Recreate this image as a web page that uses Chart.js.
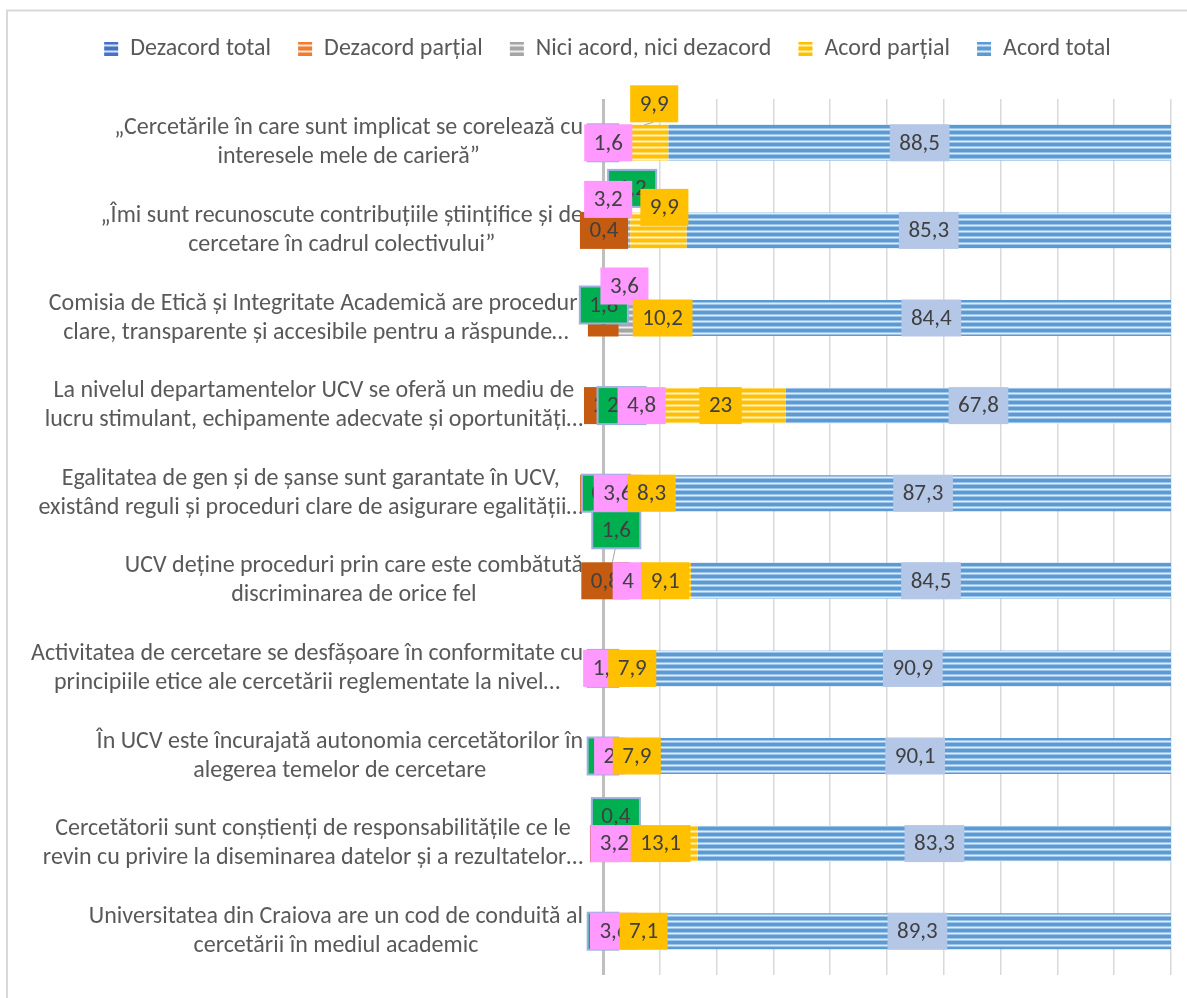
<!DOCTYPE html>
<html>
<head>
<meta charset="utf-8">
<script src="https://cdn.jsdelivr.net/npm/chart.js@4.4.1/dist/chart.umd.min.js"></script>
<style>
  html, body { margin: 0; padding: 0; background: #fff; }
</style>
</head>
<body>
<canvas id="myChart" width="1187" height="998"></canvas>
<script>
const categories = [
    ['„Cercetările în care sunt implicat se corelează cu', 'interesele mele de carieră”'],
    ['„Îmi sunt recunoscute contribuțiile științifice și de', 'cercetare în cadrul colectivului”'],
    ['Comisia de Etică și Integritate Academică are proceduri', 'clare, transparente și accesibile pentru a răspunde…'],
    ['La nivelul departamentelor UCV se oferă un mediu de', 'lucru stimulant, echipamente adecvate și oportunități…'],
    ['Egalitatea de gen și de șanse sunt garantate în UCV,', 'existând reguli și proceduri clare de asigurare egalității…'],
    ['UCV deține proceduri prin care este combătută', 'discriminarea de orice fel'],
    ['Activitatea de cercetare se desfășoare în conformitate cu', 'principiile etice ale cercetării reglementate la nivel…'],
    ['În UCV este încurajată autonomia cercetătorilor în', 'alegerea temelor de cercetare'],
    ['Cercetătorii sunt conștienți de responsabilitățile ce le', 'revin cu privire la diseminarea datelor și a rezultatelor…'],
    ['Universitatea din Craiova are un cod de conduită al', 'cercetării în mediul academic']
];
const seriesNames = ['Dezacord total', 'Dezacord parțial', 'Nici acord, nici dezacord', 'Acord parțial', 'Acord total'];
const dezacordTotal   = [0, 1.2, 1.8, 2.4, 0.8, 1.6, 0, 0, 0.4, 0];
const dezacordPartial = [0, 0.4, 0, 2, 0, 0.8, 0, 0, 0, 0];
const niciAcord       = [1.6, 3.2, 3.6, 4.8, 3.6, 4, 1.2, 2, 3.2, 3.6];
const acordPartial    = [9.9, 9.9, 10.2, 23, 8.3, 9.1, 7.9, 7.9, 13.1, 7.1];
const acordTotal      = [88.5, 85.3, 84.4, 67.8, 87.3, 84.5, 90.9, 90.1, 83.3, 89.3];
const axisTicks = [0, 10, 20, 30, 40, 50, 60, 70, 80, 90, 100];

const FONT = "Carlito, 'Liberation Sans', Arial, sans-serif";

// horizontal stripe fill like the excel pattern
function stripes(dark, mid, light) {
    const cv = document.createElement('canvas');
    cv.width = 6; cv.height = 6;
    const g = cv.getContext('2d');
    [dark, dark, mid, light, mid, dark].forEach((c, i) => {
        g.fillStyle = c;
        g.fillRect(0, i, 6, 1);
    });
    return g.createPattern(cv, 'repeat');
}

const barFills = [
    stripes('#4472C4', '#8FAADC', '#DAE3F3'),
    stripes('#ED7D31', '#F4B183', '#FBE5D6'),
    stripes('#A5A5A5', '#C9C9C9', '#EDEDED'),
    stripes('#FFC000', '#FFD966', '#FFF2CC'),
    stripes('#5B9BD5', '#9DC3E6', '#DEEBF7')
];
const labelFill = ['#00B050', '#C55A11', '#FF99FF', '#FFC000', '#B4C7E7'];
const labelOrder = [1, 0, 2, 3, 4];
// labels that were dragged away from the bar centre in the original (px)
const labelShift = {
    '0-3': [14, -39],
    '1-0': [25, -42], '1-1': [-7, 0], '1-2': [-13, -31], '1-3': [6, -23],
    '2-0': [-5, -13], '2-1': [-10, 0], '2-2': [1, -32],
    '3-0': [11, 0], '3-1': [-23, 0],
    '4-1': [-12, 0],
    '5-0': [8, -51], '5-1': [-9, 0],
    '8-0': [11, -27]
};

const frame = {
    id: 'frame',
    beforeDraw(chart) {
        const ctx = chart.ctx;
        ctx.save();
        ctx.strokeStyle = '#D9D9D9';
        ctx.lineWidth = 2;
        ctx.strokeRect(7, 10.5, 1200, 1000);
        ctx.restore();
    }
};

const legendSpace = {
    id: 'legendSpace',
    beforeInit(chart) {
        const fit = chart.legend.fit;
        chart.legend.fit = function () {
            fit.call(this);
            this.height = 89;
        };
    }
};

const categoryText = {
    id: 'categoryText',
    beforeDatasetsDraw(chart) {
        const ctx = chart.ctx;
        const yAxis = chart.scales.y;
        ctx.save();
        ctx.font = '24px ' + FONT;
        ctx.fillStyle = '#595959';
        ctx.textAlign = 'center';
        ctx.textBaseline = 'middle';
        categories.forEach((lines, i) => {
            const yc = yAxis.getPixelForValue(i);
            const widest = Math.max(...lines.map(l => ctx.measureText(l).width));
            const xc = yAxis.right - 20 - widest / 2;
            lines.forEach((l, k) => {
                ctx.fillText(l, xc, yc + (k - (lines.length - 1) / 2) * 29);
            });
        });
        ctx.restore();
    }
};

const boxLabels = {
    id: 'boxLabels',
    afterDatasetsDraw(chart) {
        const ctx = chart.ctx;
        ctx.save();
        ctx.font = '23px ' + FONT;
        ctx.textAlign = 'center';
        ctx.textBaseline = 'middle';
        labelOrder.forEach(ds => {
            const meta = chart.getDatasetMeta(ds);
            meta.data.forEach((bar, i) => {
                const v = chart.data.datasets[ds].data[i];
                if (v === null || v === undefined) return;
                const p = bar.getProps(['x', 'y', 'base', 'height'], true);
                const text = String(v).replace('.', ',');
                const shift = labelShift[i + '-' + ds] || [0, 0];
                const segX = (p.x + p.base) / 2;
                const cx = segX + shift[0];
                const cy = p.y + shift[1];
                const w = ctx.measureText(text).width + 19;
                const h = 37;
                const barTop = p.y - p.height / 2;
                if (cy + h / 2 < barTop) {
                    ctx.strokeStyle = '#A6A6A6';
                    ctx.lineWidth = 1;
                    ctx.beginPath();
                    ctx.moveTo(cx - 1, cy + h / 2);
                    ctx.lineTo(segX + 4, barTop);
                    ctx.stroke();
                }
                ctx.fillStyle = labelFill[ds];
                ctx.fillRect(cx - w / 2, cy - h / 2, w, h);
                if (ds === 0) {
                    ctx.strokeStyle = '#9DB1DE';
                    ctx.lineWidth = 2;
                    ctx.strokeRect(cx - w / 2, cy - h / 2, w, h);
                }
                ctx.fillStyle = '#404040';
                ctx.fillText(text, cx, cy + 1);
            });
        });
        ctx.restore();
    }
};

const seriesData = [dezacordTotal, dezacordPartial, niciAcord, acordPartial, acordTotal];
const data = {
    labels: categories.map(c => c.join(' ')),
    datasets: seriesNames.map((name, s) => ({
        label: name,
        data: seriesData[s],
        backgroundColor: barFills[s],
        borderWidth: 0,
        categoryPercentage: 0.5,
        barPercentage: 0.82
    }))
};

const config = {
    type: 'bar',
    data: data,
    options: {
        indexAxis: 'y',
        responsive: false,
        animation: false,
        layout: { padding: { top: 10, right: 16, bottom: 23, left: 44 } },
        plugins: {
            legend: {
                position: 'top',
                labels: {
                    boxWidth: 14,
                    boxHeight: 14,
                    padding: 27,
                    color: '#595959',
                    font: { size: 24, family: FONT }
                }
            },
            tooltip: { enabled: false }
        },
        scales: {
            x: {
                stacked: true,
                min: 0,
                max: 100,
                afterBuildTicks: (scale) => { scale.ticks = axisTicks.map(v => ({ value: v })); },
                ticks: { display: false },
                border: { display: false },
                grid: {
                    drawTicks: false,
                    color: (c) => c.tick && c.tick.value === 0 ? '#BFBFBF' : '#D9D9D9',
                    lineWidth: (c) => c.tick && c.tick.value === 0 ? 3 : 1.5
                }
            },
            y: {
                stacked: true,
                ticks: { display: false },
                grid: { display: false },
                border: { display: false },
                afterFit: (scale) => { scale.width = 559; }
            }
        }
    },
    plugins: [frame, legendSpace, categoryText, boxLabels]
};

const myChart = new Chart(document.getElementById('myChart'), config);
</script>
</body>
</html>
